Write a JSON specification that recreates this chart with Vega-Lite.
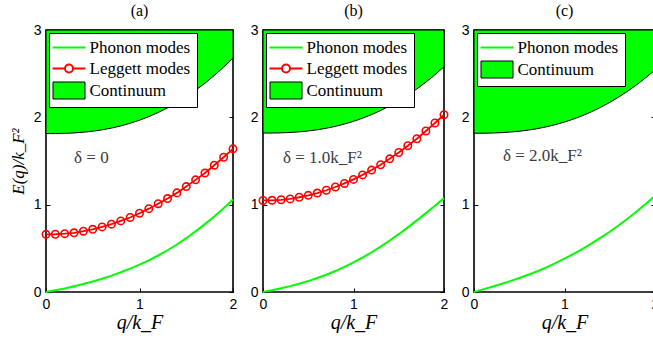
{
  "$schema": "https://vega.github.io/schema/vega-lite/v6.json",
  "background": "white",
  "padding": {"left": 8, "top": 2, "right": 0, "bottom": 0},
  "spacing": 30,
  "bounds": "flush",
  "config": {
    "view": {"stroke": "black", "strokeWidth": 1.6},
    "axis": {
      "labelFont": "Liberation Sans", "labelFontSize": 14, "labelColor": "black",
      "labelFlush": false, "labelOverlap": false, "labelPadding": 9, "format": "d",
      "tickColor": "black", "tickSize": -4, "tickWidth": 1,
      "domain": false, "grid": false,
      "titleFont": "Liberation Serif", "titleFontStyle": "italic", "titleFontWeight": "normal",
      "titleFontSize": 20, "titleColor": "black"
    },
    "legend": {
      "title": null, "orient": "top-left", "offset": 3,
      "fillColor": "white", "strokeColor": "black", "padding": 6,
      "labelFont": "Liberation Serif", "labelFontSize": 17, "labelColor": "black",
      "labelOffset": 12, "symbolOffset": 5.5, "rowPadding": 3, "symbolSize": 400
    },
    "title": {"font": "Liberation Serif", "fontSize": 16, "fontWeight": "normal", "offset": 4, "color": "black"}
  },
  "datasets": {
    "continuum": [
      {"panel": "a", "series": "Continuum", "q": 0.0, "lo": 1.814},
      {"panel": "a", "series": "Continuum", "q": 0.1, "lo": 1.8145},
      {"panel": "a", "series": "Continuum", "q": 0.2, "lo": 1.8167},
      {"panel": "a", "series": "Continuum", "q": 0.3, "lo": 1.8215},
      {"panel": "a", "series": "Continuum", "q": 0.4, "lo": 1.8295},
      {"panel": "a", "series": "Continuum", "q": 0.5, "lo": 1.841},
      {"panel": "a", "series": "Continuum", "q": 0.6, "lo": 1.8567},
      {"panel": "a", "series": "Continuum", "q": 0.7, "lo": 1.8767},
      {"panel": "a", "series": "Continuum", "q": 0.8, "lo": 1.9016},
      {"panel": "a", "series": "Continuum", "q": 0.9, "lo": 1.9316},
      {"panel": "a", "series": "Continuum", "q": 1.0, "lo": 1.967},
      {"panel": "a", "series": "Continuum", "q": 1.1, "lo": 2.0082},
      {"panel": "a", "series": "Continuum", "q": 1.2, "lo": 2.0553},
      {"panel": "a", "series": "Continuum", "q": 1.3, "lo": 2.1088},
      {"panel": "a", "series": "Continuum", "q": 1.4, "lo": 2.1688},
      {"panel": "a", "series": "Continuum", "q": 1.5, "lo": 2.2357},
      {"panel": "a", "series": "Continuum", "q": 1.6, "lo": 2.3094},
      {"panel": "a", "series": "Continuum", "q": 1.7, "lo": 2.3905},
      {"panel": "a", "series": "Continuum", "q": 1.8, "lo": 2.4791},
      {"panel": "a", "series": "Continuum", "q": 1.9, "lo": 2.5753},
      {"panel": "a", "series": "Continuum", "q": 2.0, "lo": 2.6795},
      {"panel": "b", "series": "Continuum", "q": 0.0, "lo": 1.82},
      {"panel": "b", "series": "Continuum", "q": 0.1, "lo": 1.8204},
      {"panel": "b", "series": "Continuum", "q": 0.2, "lo": 1.8224},
      {"panel": "b", "series": "Continuum", "q": 0.3, "lo": 1.8266},
      {"panel": "b", "series": "Continuum", "q": 0.4, "lo": 1.8336},
      {"panel": "b", "series": "Continuum", "q": 0.5, "lo": 1.8437},
      {"panel": "b", "series": "Continuum", "q": 0.6, "lo": 1.8574},
      {"panel": "b", "series": "Continuum", "q": 0.7, "lo": 1.8749},
      {"panel": "b", "series": "Continuum", "q": 0.8, "lo": 1.8967},
      {"panel": "b", "series": "Continuum", "q": 0.9, "lo": 1.923},
      {"panel": "b", "series": "Continuum", "q": 1.0, "lo": 1.954},
      {"panel": "b", "series": "Continuum", "q": 1.1, "lo": 1.99},
      {"panel": "b", "series": "Continuum", "q": 1.2, "lo": 2.0314},
      {"panel": "b", "series": "Continuum", "q": 1.3, "lo": 2.0782},
      {"panel": "b", "series": "Continuum", "q": 1.4, "lo": 2.1307},
      {"panel": "b", "series": "Continuum", "q": 1.5, "lo": 2.1893},
      {"panel": "b", "series": "Continuum", "q": 1.6, "lo": 2.2539},
      {"panel": "b", "series": "Continuum", "q": 1.7, "lo": 2.3249},
      {"panel": "b", "series": "Continuum", "q": 1.8, "lo": 2.4025},
      {"panel": "b", "series": "Continuum", "q": 1.9, "lo": 2.4868},
      {"panel": "b", "series": "Continuum", "q": 2.0, "lo": 2.578},
      {"panel": "c", "series": "Continuum", "q": 0.0, "lo": 1.818},
      {"panel": "c", "series": "Continuum", "q": 0.1, "lo": 1.8184},
      {"panel": "c", "series": "Continuum", "q": 0.2, "lo": 1.8203},
      {"panel": "c", "series": "Continuum", "q": 0.3, "lo": 1.8243},
      {"panel": "c", "series": "Continuum", "q": 0.4, "lo": 1.831},
      {"panel": "c", "series": "Continuum", "q": 0.5, "lo": 1.8406},
      {"panel": "c", "series": "Continuum", "q": 0.6, "lo": 1.8537},
      {"panel": "c", "series": "Continuum", "q": 0.7, "lo": 1.8705},
      {"panel": "c", "series": "Continuum", "q": 0.8, "lo": 1.8913},
      {"panel": "c", "series": "Continuum", "q": 0.9, "lo": 1.9164},
      {"panel": "c", "series": "Continuum", "q": 1.0, "lo": 1.946},
      {"panel": "c", "series": "Continuum", "q": 1.1, "lo": 1.9804},
      {"panel": "c", "series": "Continuum", "q": 1.2, "lo": 2.0199},
      {"panel": "c", "series": "Continuum", "q": 1.3, "lo": 2.0647},
      {"panel": "c", "series": "Continuum", "q": 1.4, "lo": 2.1148},
      {"panel": "c", "series": "Continuum", "q": 1.5, "lo": 2.1708},
      {"panel": "c", "series": "Continuum", "q": 1.6, "lo": 2.2325},
      {"panel": "c", "series": "Continuum", "q": 1.7, "lo": 2.3003},
      {"panel": "c", "series": "Continuum", "q": 1.8, "lo": 2.3744},
      {"panel": "c", "series": "Continuum", "q": 1.9, "lo": 2.4549},
      {"panel": "c", "series": "Continuum", "q": 2.0, "lo": 2.5421}
    ],
    "phonon": [
      {"panel": "a", "series": "Phonon modes", "q": 0.0, "E": 0.0},
      {"panel": "a", "series": "Phonon modes", "q": 0.1, "E": 0.02},
      {"panel": "a", "series": "Phonon modes", "q": 0.2, "E": 0.041},
      {"panel": "a", "series": "Phonon modes", "q": 0.3, "E": 0.065},
      {"panel": "a", "series": "Phonon modes", "q": 0.4, "E": 0.091},
      {"panel": "a", "series": "Phonon modes", "q": 0.5, "E": 0.12},
      {"panel": "a", "series": "Phonon modes", "q": 0.6, "E": 0.152},
      {"panel": "a", "series": "Phonon modes", "q": 0.7, "E": 0.187},
      {"panel": "a", "series": "Phonon modes", "q": 0.8, "E": 0.226},
      {"panel": "a", "series": "Phonon modes", "q": 0.9, "E": 0.268},
      {"panel": "a", "series": "Phonon modes", "q": 1.0, "E": 0.314},
      {"panel": "a", "series": "Phonon modes", "q": 1.1, "E": 0.363},
      {"panel": "a", "series": "Phonon modes", "q": 1.2, "E": 0.418},
      {"panel": "a", "series": "Phonon modes", "q": 1.3, "E": 0.478},
      {"panel": "a", "series": "Phonon modes", "q": 1.4, "E": 0.544},
      {"panel": "a", "series": "Phonon modes", "q": 1.5, "E": 0.616},
      {"panel": "a", "series": "Phonon modes", "q": 1.6, "E": 0.694},
      {"panel": "a", "series": "Phonon modes", "q": 1.7, "E": 0.777},
      {"panel": "a", "series": "Phonon modes", "q": 1.8, "E": 0.865},
      {"panel": "a", "series": "Phonon modes", "q": 1.9, "E": 0.958},
      {"panel": "a", "series": "Phonon modes", "q": 2.0, "E": 1.058},
      {"panel": "b", "series": "Phonon modes", "q": 0.0, "E": 0.0},
      {"panel": "b", "series": "Phonon modes", "q": 0.1, "E": 0.02},
      {"panel": "b", "series": "Phonon modes", "q": 0.2, "E": 0.042},
      {"panel": "b", "series": "Phonon modes", "q": 0.3, "E": 0.067},
      {"panel": "b", "series": "Phonon modes", "q": 0.4, "E": 0.095},
      {"panel": "b", "series": "Phonon modes", "q": 0.5, "E": 0.125},
      {"panel": "b", "series": "Phonon modes", "q": 0.6, "E": 0.16},
      {"panel": "b", "series": "Phonon modes", "q": 0.7, "E": 0.198},
      {"panel": "b", "series": "Phonon modes", "q": 0.8, "E": 0.24},
      {"panel": "b", "series": "Phonon modes", "q": 0.9, "E": 0.288},
      {"panel": "b", "series": "Phonon modes", "q": 1.0, "E": 0.34},
      {"panel": "b", "series": "Phonon modes", "q": 1.1, "E": 0.395},
      {"panel": "b", "series": "Phonon modes", "q": 1.2, "E": 0.455},
      {"panel": "b", "series": "Phonon modes", "q": 1.3, "E": 0.52},
      {"panel": "b", "series": "Phonon modes", "q": 1.4, "E": 0.59},
      {"panel": "b", "series": "Phonon modes", "q": 1.5, "E": 0.662},
      {"panel": "b", "series": "Phonon modes", "q": 1.6, "E": 0.74},
      {"panel": "b", "series": "Phonon modes", "q": 1.7, "E": 0.82},
      {"panel": "b", "series": "Phonon modes", "q": 1.8, "E": 0.903},
      {"panel": "b", "series": "Phonon modes", "q": 1.9, "E": 0.988},
      {"panel": "b", "series": "Phonon modes", "q": 2.0, "E": 1.075},
      {"panel": "c", "series": "Phonon modes", "q": 0.0, "E": 0.0},
      {"panel": "c", "series": "Phonon modes", "q": 0.1, "E": 0.03},
      {"panel": "c", "series": "Phonon modes", "q": 0.2, "E": 0.06},
      {"panel": "c", "series": "Phonon modes", "q": 0.3, "E": 0.092},
      {"panel": "c", "series": "Phonon modes", "q": 0.4, "E": 0.125},
      {"panel": "c", "series": "Phonon modes", "q": 0.5, "E": 0.16},
      {"panel": "c", "series": "Phonon modes", "q": 0.6, "E": 0.198},
      {"panel": "c", "series": "Phonon modes", "q": 0.7, "E": 0.238},
      {"panel": "c", "series": "Phonon modes", "q": 0.8, "E": 0.282},
      {"panel": "c", "series": "Phonon modes", "q": 0.9, "E": 0.33},
      {"panel": "c", "series": "Phonon modes", "q": 1.0, "E": 0.382},
      {"panel": "c", "series": "Phonon modes", "q": 1.1, "E": 0.436},
      {"panel": "c", "series": "Phonon modes", "q": 1.2, "E": 0.494},
      {"panel": "c", "series": "Phonon modes", "q": 1.3, "E": 0.556},
      {"panel": "c", "series": "Phonon modes", "q": 1.4, "E": 0.622},
      {"panel": "c", "series": "Phonon modes", "q": 1.5, "E": 0.69},
      {"panel": "c", "series": "Phonon modes", "q": 1.6, "E": 0.764},
      {"panel": "c", "series": "Phonon modes", "q": 1.7, "E": 0.842},
      {"panel": "c", "series": "Phonon modes", "q": 1.8, "E": 0.924},
      {"panel": "c", "series": "Phonon modes", "q": 1.9, "E": 1.01},
      {"panel": "c", "series": "Phonon modes", "q": 2.0, "E": 1.1}
    ],
    "leggett": [
      {"panel": "a", "series": "Leggett modes", "q": 0.0, "E": 0.66},
      {"panel": "a", "series": "Leggett modes", "q": 0.1, "E": 0.661},
      {"panel": "a", "series": "Leggett modes", "q": 0.2, "E": 0.668},
      {"panel": "a", "series": "Leggett modes", "q": 0.3, "E": 0.678},
      {"panel": "a", "series": "Leggett modes", "q": 0.4, "E": 0.696},
      {"panel": "a", "series": "Leggett modes", "q": 0.5, "E": 0.718},
      {"panel": "a", "series": "Leggett modes", "q": 0.6, "E": 0.745},
      {"panel": "a", "series": "Leggett modes", "q": 0.7, "E": 0.777},
      {"panel": "a", "series": "Leggett modes", "q": 0.8, "E": 0.814},
      {"panel": "a", "series": "Leggett modes", "q": 0.9, "E": 0.853},
      {"panel": "a", "series": "Leggett modes", "q": 1.0, "E": 0.902},
      {"panel": "a", "series": "Leggett modes", "q": 1.1, "E": 0.954},
      {"panel": "a", "series": "Leggett modes", "q": 1.2, "E": 1.011},
      {"panel": "a", "series": "Leggett modes", "q": 1.3, "E": 1.07},
      {"panel": "a", "series": "Leggett modes", "q": 1.4, "E": 1.135},
      {"panel": "a", "series": "Leggett modes", "q": 1.5, "E": 1.207},
      {"panel": "a", "series": "Leggett modes", "q": 1.6, "E": 1.284},
      {"panel": "a", "series": "Leggett modes", "q": 1.7, "E": 1.362},
      {"panel": "a", "series": "Leggett modes", "q": 1.8, "E": 1.452},
      {"panel": "a", "series": "Leggett modes", "q": 1.9, "E": 1.543},
      {"panel": "a", "series": "Leggett modes", "q": 2.0, "E": 1.639},
      {"panel": "b", "series": "Leggett modes", "q": 0.0, "E": 1.048},
      {"panel": "b", "series": "Leggett modes", "q": 0.1, "E": 1.05},
      {"panel": "b", "series": "Leggett modes", "q": 0.2, "E": 1.056},
      {"panel": "b", "series": "Leggett modes", "q": 0.3, "E": 1.066},
      {"panel": "b", "series": "Leggett modes", "q": 0.4, "E": 1.085},
      {"panel": "b", "series": "Leggett modes", "q": 0.5, "E": 1.107},
      {"panel": "b", "series": "Leggett modes", "q": 0.6, "E": 1.133},
      {"panel": "b", "series": "Leggett modes", "q": 0.7, "E": 1.165},
      {"panel": "b", "series": "Leggett modes", "q": 0.8, "E": 1.202},
      {"panel": "b", "series": "Leggett modes", "q": 0.9, "E": 1.243},
      {"panel": "b", "series": "Leggett modes", "q": 1.0, "E": 1.289},
      {"panel": "b", "series": "Leggett modes", "q": 1.1, "E": 1.341},
      {"panel": "b", "series": "Leggett modes", "q": 1.2, "E": 1.396},
      {"panel": "b", "series": "Leggett modes", "q": 1.3, "E": 1.457},
      {"panel": "b", "series": "Leggett modes", "q": 1.4, "E": 1.525},
      {"panel": "b", "series": "Leggett modes", "q": 1.5, "E": 1.597},
      {"panel": "b", "series": "Leggett modes", "q": 1.6, "E": 1.675},
      {"panel": "b", "series": "Leggett modes", "q": 1.7, "E": 1.755},
      {"panel": "b", "series": "Leggett modes", "q": 1.8, "E": 1.844},
      {"panel": "b", "series": "Leggett modes", "q": 1.9, "E": 1.935},
      {"panel": "b", "series": "Leggett modes", "q": 2.0, "E": 2.03}
    ],
    "notes": [
      {"panel": "a", "label": "δ = 0", "q": 0.3, "E": 1.53},
      {"panel": "b", "label": "δ = 1.0k_F²", "q": 0.22, "E": 1.54},
      {"panel": "c", "label": "δ = 2.0k_F²", "q": 0.32, "E": 1.56}
    ]
  },
  "resolve": {
    "scale": {"fill": "independent", "stroke": "independent"},
    "legend": {"fill": "independent", "stroke": "independent"}
  },
  "hconcat": [
    {
      "width": 187, "height": 262,
      "title": {"text": "(a)"},
      "resolve": {"axis": {"x": "independent", "y": "independent"}},
      "layer": [
        {
          "data": {"name": "continuum"},
          "transform": [{"filter": "datum.panel === 'a'"}],
          "mark": {"type": "area", "stroke": "black", "strokeWidth": 1},
          "encoding": {
            "x": {"field": "q", "type": "quantitative", "scale": {"domain": [0, 2], "nice": false, "zero": false},
                  "axis": {"orient": "top", "values": [0, 1, 2], "labels": false, "title": null}},
            "y": {"field": "lo", "type": "quantitative", "scale": {"domain": [0, 3], "nice": false},
                  "axis": {"orient": "right", "values": [0, 1, 2, 3], "labels": false, "title": null}},
            "y2": {"datum": 3},
            "fill": {"field": "series", "type": "nominal",
              "scale": {"domain": ["Phonon modes", "Leggett modes", "Continuum"], "range": ["transparent", "transparent", "#00ff00"]},
              "legend": {
                "encoding": {"symbols": {
                  "shape": {"value": {"expr": "datum.value === 'Continuum' ? 'M-1.6,-0.85L1.6,-0.85L1.6,0.85L-1.6,0.85Z' : datum.value === 'Leggett modes' ? 'M-1.65,0L-0.4,0M0.4,0L1.65,0M0.4,0A0.4,0.4,0,1,1,-0.4,0A0.4,0.4,0,1,1,0.4,0' : 'M-1.65,0L1.65,0'"}},
                  "strokeWidth": {"value": {"expr": "datum.value === 'Continuum' ? 1 : 2"}},
                  "opacity": {"value": 1}
                }}
              }}
          }
        },
        {
          "data": {"name": "phonon"},
          "transform": [{"filter": "datum.panel === 'a'"}],
          "mark": {"type": "line", "strokeWidth": 2},
          "encoding": {
            "x": {"field": "q", "type": "quantitative", "scale": {"domain": [0, 2], "nice": false, "zero": false},
                  "axis": {"orient": "bottom", "values": [0, 1, 2], "title": "q/k_F", "titlePadding": 1}},
            "y": {"field": "E", "type": "quantitative", "scale": {"domain": [0, 3], "nice": false},
                  "axis": {"orient": "left", "values": [0, 1, 2, 3], "title": "E(q)/k_F²", "titleFontSize": 17, "titlePadding": 6}},
            "stroke": {"field": "series", "type": "nominal",
              "scale": {"domain": ["Phonon modes", "Leggett modes", "Continuum"], "range": ["#00ff00", "#ff0000", "black"]},
              "legend": {
                "encoding": {"symbols": {
                  "shape": {"value": {"expr": "datum.value === 'Continuum' ? 'M-1.6,-0.85L1.6,-0.85L1.6,0.85L-1.6,0.85Z' : datum.value === 'Leggett modes' ? 'M-1.65,0L-0.4,0M0.4,0L1.65,0M0.4,0A0.4,0.4,0,1,1,-0.4,0A0.4,0.4,0,1,1,0.4,0' : 'M-1.65,0L1.65,0'"}},
                  "strokeWidth": {"value": {"expr": "datum.value === 'Continuum' ? 1 : 2"}},
                  "opacity": {"value": 1}
                }}
              }}
          }
        },
        {
          "data": {"name": "leggett"},
          "transform": [{"filter": "datum.panel === 'a'"}],
          "mark": {"type": "line", "strokeWidth": 1.8, "point": {"filled": false, "size": 55, "strokeWidth": 1.6, "opacity": 1}},
          "encoding": {
            "x": {"field": "q", "type": "quantitative", "axis": null},
            "y": {"field": "E", "type": "quantitative", "axis": null},
            "stroke": {"field": "series", "type": "nominal"}
          }
        },
        {
          "data": {"name": "notes"},
          "transform": [{"filter": "datum.panel === 'a'"}],
          "mark": {"type": "text", "align": "left", "baseline": "middle", "font": "Liberation Serif", "fontSize": 17, "color": "#3a3a3a"},
          "encoding": {
            "x": {"field": "q", "type": "quantitative", "axis": null},
            "y": {"field": "E", "type": "quantitative", "axis": null},
            "text": {"field": "label"}
          }
        }
      ]
    },
    {
      "width": 181, "height": 262,
      "title": {"text": "(b)"},
      "resolve": {"axis": {"x": "independent", "y": "independent"}},
      "layer": [
        {
          "data": {"name": "continuum"},
          "transform": [{"filter": "datum.panel === 'b'"}],
          "mark": {"type": "area", "stroke": "black", "strokeWidth": 1},
          "encoding": {
            "x": {"field": "q", "type": "quantitative", "scale": {"domain": [0, 2], "nice": false, "zero": false},
                  "axis": {"orient": "top", "values": [0, 1, 2], "labels": false, "title": null}},
            "y": {"field": "lo", "type": "quantitative", "scale": {"domain": [0, 3], "nice": false},
                  "axis": {"orient": "right", "values": [0, 1, 2, 3], "labels": false, "title": null}},
            "y2": {"datum": 3},
            "fill": {"field": "series", "type": "nominal",
              "scale": {"domain": ["Phonon modes", "Leggett modes", "Continuum"], "range": ["transparent", "transparent", "#00ff00"]},
              "legend": {
                "encoding": {"symbols": {
                  "shape": {"value": {"expr": "datum.value === 'Continuum' ? 'M-1.6,-0.85L1.6,-0.85L1.6,0.85L-1.6,0.85Z' : datum.value === 'Leggett modes' ? 'M-1.65,0L-0.4,0M0.4,0L1.65,0M0.4,0A0.4,0.4,0,1,1,-0.4,0A0.4,0.4,0,1,1,0.4,0' : 'M-1.65,0L1.65,0'"}},
                  "strokeWidth": {"value": {"expr": "datum.value === 'Continuum' ? 1 : 2"}},
                  "opacity": {"value": 1}
                }}
              }}
          }
        },
        {
          "data": {"name": "phonon"},
          "transform": [{"filter": "datum.panel === 'b'"}],
          "mark": {"type": "line", "strokeWidth": 2},
          "encoding": {
            "x": {"field": "q", "type": "quantitative", "scale": {"domain": [0, 2], "nice": false, "zero": false},
                  "axis": {"orient": "bottom", "values": [0, 1, 2], "title": "q/k_F", "titlePadding": 1}},
            "y": {"field": "E", "type": "quantitative", "scale": {"domain": [0, 3], "nice": false},
                  "axis": {"orient": "left", "values": [0, 1, 2, 3], "title": null}},
            "stroke": {"field": "series", "type": "nominal",
              "scale": {"domain": ["Phonon modes", "Leggett modes", "Continuum"], "range": ["#00ff00", "#ff0000", "black"]},
              "legend": {
                "encoding": {"symbols": {
                  "shape": {"value": {"expr": "datum.value === 'Continuum' ? 'M-1.6,-0.85L1.6,-0.85L1.6,0.85L-1.6,0.85Z' : datum.value === 'Leggett modes' ? 'M-1.65,0L-0.4,0M0.4,0L1.65,0M0.4,0A0.4,0.4,0,1,1,-0.4,0A0.4,0.4,0,1,1,0.4,0' : 'M-1.65,0L1.65,0'"}},
                  "strokeWidth": {"value": {"expr": "datum.value === 'Continuum' ? 1 : 2"}},
                  "opacity": {"value": 1}
                }}
              }}
          }
        },
        {
          "data": {"name": "leggett"},
          "transform": [{"filter": "datum.panel === 'b'"}],
          "mark": {"type": "line", "strokeWidth": 1.8, "point": {"filled": false, "size": 55, "strokeWidth": 1.6, "opacity": 1}},
          "encoding": {
            "x": {"field": "q", "type": "quantitative", "axis": null},
            "y": {"field": "E", "type": "quantitative", "axis": null},
            "stroke": {"field": "series", "type": "nominal"}
          }
        },
        {
          "data": {"name": "notes"},
          "transform": [{"filter": "datum.panel === 'b'"}],
          "mark": {"type": "text", "align": "left", "baseline": "middle", "font": "Liberation Serif", "fontSize": 17, "color": "#3a3a3a"},
          "encoding": {
            "x": {"field": "q", "type": "quantitative", "axis": null},
            "y": {"field": "E", "type": "quantitative", "axis": null},
            "text": {"field": "label"}
          }
        }
      ]
    },
    {
      "width": 181, "height": 262,
      "title": {"text": "(c)"},
      "resolve": {"axis": {"x": "independent", "y": "independent"}},
      "layer": [
        {
          "data": {"name": "continuum"},
          "transform": [{"filter": "datum.panel === 'c'"}],
          "mark": {"type": "area", "stroke": "black", "strokeWidth": 1},
          "encoding": {
            "x": {"field": "q", "type": "quantitative", "scale": {"domain": [0, 2], "nice": false, "zero": false},
                  "axis": {"orient": "top", "values": [0, 1, 2], "labels": false, "title": null}},
            "y": {"field": "lo", "type": "quantitative", "scale": {"domain": [0, 3], "nice": false},
                  "axis": {"orient": "right", "values": [0, 1, 2, 3], "labels": false, "title": null}},
            "y2": {"datum": 3},
            "fill": {"field": "series", "type": "nominal",
              "scale": {"domain": ["Phonon modes", "Continuum"], "range": ["transparent", "#00ff00"]},
              "legend": {
                "encoding": {"symbols": {
                  "shape": {"value": {"expr": "datum.value === 'Continuum' ? 'M-1.6,-0.85L1.6,-0.85L1.6,0.85L-1.6,0.85Z' : 'M-1.65,0L1.65,0'"}},
                  "strokeWidth": {"value": {"expr": "datum.value === 'Continuum' ? 1 : 2"}},
                  "opacity": {"value": 1}
                }}
              }}
          }
        },
        {
          "data": {"name": "phonon"},
          "transform": [{"filter": "datum.panel === 'c'"}],
          "mark": {"type": "line", "strokeWidth": 2},
          "encoding": {
            "x": {"field": "q", "type": "quantitative", "scale": {"domain": [0, 2], "nice": false, "zero": false},
                  "axis": {"orient": "bottom", "values": [0, 1, 2], "title": "q/k_F", "titlePadding": 1}},
            "y": {"field": "E", "type": "quantitative", "scale": {"domain": [0, 3], "nice": false},
                  "axis": {"orient": "left", "values": [0, 1, 2, 3], "title": null}},
            "stroke": {"field": "series", "type": "nominal",
              "scale": {"domain": ["Phonon modes", "Continuum"], "range": ["#00ff00", "black"]},
              "legend": {
                "encoding": {"symbols": {
                  "shape": {"value": {"expr": "datum.value === 'Continuum' ? 'M-1.6,-0.85L1.6,-0.85L1.6,0.85L-1.6,0.85Z' : 'M-1.65,0L1.65,0'"}},
                  "strokeWidth": {"value": {"expr": "datum.value === 'Continuum' ? 1 : 2"}},
                  "opacity": {"value": 1}
                }}
              }}
          }
        },
        {
          "data": {"name": "notes"},
          "transform": [{"filter": "datum.panel === 'c'"}],
          "mark": {"type": "text", "align": "left", "baseline": "middle", "font": "Liberation Serif", "fontSize": 17, "color": "#3a3a3a"},
          "encoding": {
            "x": {"field": "q", "type": "quantitative", "axis": null},
            "y": {"field": "E", "type": "quantitative", "axis": null},
            "text": {"field": "label"}
          }
        }
      ]
    }
  ]
}
